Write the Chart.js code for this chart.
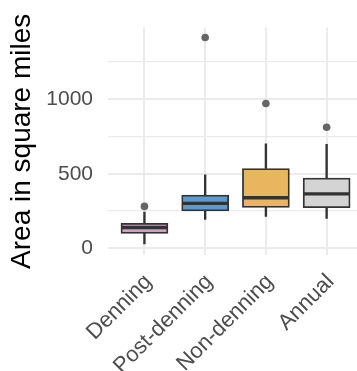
<!DOCTYPE html>
<html><head><meta charset="utf-8">
<script src="https://cdn.jsdelivr.net/npm/chart.js@4"></script>
<style>html,body{margin:0;padding:0;background:#fff;overflow:hidden}#wrap{width:357px;height:371px;position:relative}</style>
</head><body><div id="wrap"><canvas id="c"></canvas></div>
<script>
const categories = ['Denning', 'Post-denning', 'Non-denning', 'Annual'];
const whiskerLow = [29, 193, 214, 201];
const q1 = [100, 250, 274, 272];
const median = [139, 301, 339, 365];
const q3 = [168, 357, 535, 471];
const whiskerHigh = [243, 493, 701, 697];
const outliers = [281, 1414, 971, 812];
const boxColors = ['#d89cc6', '#5b9bd2', '#e9b55e', '#d4d4d4'];
const yTicks = [0, 250, 500, 750, 1000, 1250];

const FONT = '"Liberation Sans", Arial, Helvetica, sans-serif';
const dark = '#333333';

new Chart(document.getElementById('c'), {
  type: 'bar',
  data: {
    datasets: [
      { type: 'scatter', data: categories.map((c, i) => ({ x: i + 1, y: median[i] })),
        pointStyle: 'line', pointRadius: 23, pointHoverRadius: 23, pointBorderColor: dark, pointBorderWidth: 3.4, order: 0 },
      { type: 'scatter', data: categories.map((c, i) => ({ x: i + 1, y: outliers[i] })),
        pointStyle: 'circle', pointRadius: 3.8, pointHoverRadius: 3.8, pointBackgroundColor: '#666666', pointBorderWidth: 0, order: 0 },
      { type: 'bar', data: categories.map((c, i) => ({ x: i + 1, y: [q1[i], q3[i]] })),
        backgroundColor: boxColors, borderColor: dark, borderWidth: 1.8, borderSkipped: false,
        barThickness: 47, grouped: false, order: 1 },
      { type: 'bar', data: categories.map((c, i) => ({ x: i + 1, y: [whiskerLow[i], q1[i]] })),
        backgroundColor: dark, borderWidth: 0, barThickness: 1.7, grouped: false, order: 2 },
      { type: 'bar', data: categories.map((c, i) => ({ x: i + 1, y: [q3[i], whiskerHigh[i]] })),
        backgroundColor: dark, borderWidth: 0, barThickness: 1.7, grouped: false, order: 2 }
    ]
  },
  options: {
    responsive: true, maintainAspectRatio: false, animation: false, devicePixelRatio: 1,
    layout: { autoPadding: false, padding: { top: 25, left: 0, right: 0, bottom: 0 } },
    plugins: { legend: { display: false }, tooltip: { enabled: false } },
    scales: {
      x: {
        type: 'linear', min: 0.4, max: 4.5, offset: false,
        afterBuildTicks: s => { s.ticks = categories.map((c, i) => ({ value: i + 1 })); },
        afterFit: s => { s.height = 116; s.paddingLeft = 0; s.paddingRight = 0; },
        ticks: { callback: v => categories[v - 1], autoSkip: false, maxRotation: 45, minRotation: 45,
          font: { family: FONT, size: 22 }, color: '#4d4d4d', padding: 14, labelOffset: 4 },
        grid: { color: '#ebebeb', lineWidth: 2, drawTicks: false, offset: false },
        border: { display: false }
      },
      y: {
        min: -45, max: 1480,
        afterBuildTicks: s => { s.ticks = yTicks.map(v => ({ value: v })); },
        afterFit: s => { s.width = 108; },
        ticks: { callback: v => (v % 500 === 0 ? String(v) : ''), font: { family: FONT, size: 21 },
          color: '#4d4d4d', padding: 15 },
        grid: { color: '#ebebeb', lineWidth: c => (c.tick && c.tick.value % 500 === 0 ? 2 : 1.3), drawTicks: false },
        border: { display: false },
        title: { display: true, text: 'Area in square miles', color: '#000000',
          font: { family: FONT, size: 28, weight: 'normal' }, padding: { top: 5, bottom: 0 } }
      }
    }
  }
});
</script>
</body></html>
